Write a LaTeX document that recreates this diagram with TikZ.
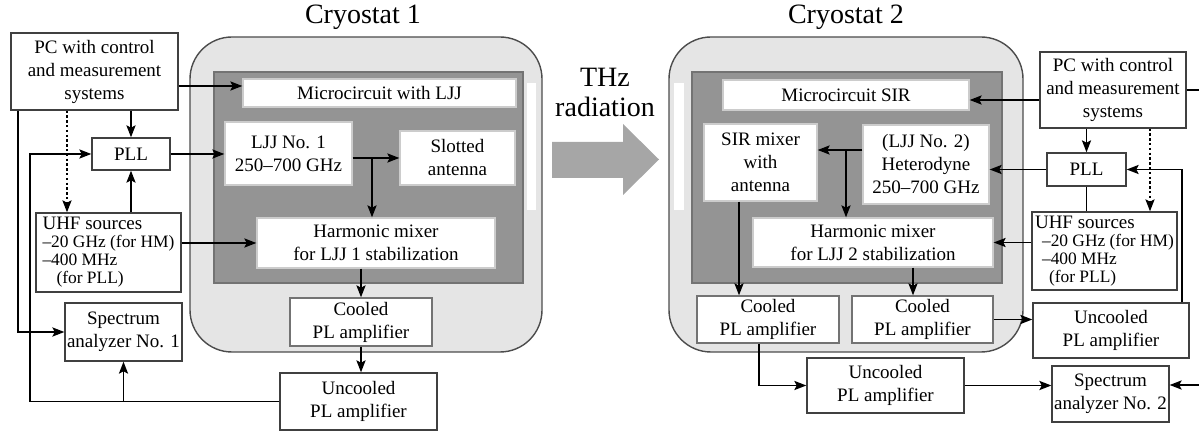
\documentclass[tikz,border=0pt]{standalone}
\usepackage{fontspec}
\setmainfont{Liberation Serif}
\usetikzlibrary{arrows.meta}

\begin{document}
\begin{tikzpicture}[
    x=0.5pt, y=-0.5pt,
    box/.style={draw=black!75, fill=white, line width=0.7pt, align=center, inner sep=1pt,
      font=\fontsize{9.5}{11.5}\selectfont},
    chip box/.style={box, draw=black!20},
    cool box/.style={box, draw=black!55},
    src box/.style={box, align=left, font=\fontsize{8.7}{9}\selectfont},
    cryostat/.style={fill=black!10, draw=black!70, line width=0.7pt, rounded corners=21pt},
    chip/.style={fill=black!42, draw=black!55, line width=0.6pt},
    window/.style={fill=white},
    wave/.style={fill=black!35},
    title/.style={font=\fontsize{14}{15}\selectfont, align=center},
    arr/.style={-{Stealth[length=6pt, width=4.6pt, inset=1.2pt]}, line width=0.7pt},
    dots/.style={arr, dash pattern=on 1.2pt off 1.2pt}
  ]
  \useasboundingbox (0,0) rectangle (1199,432);

  % Cryostats
  \draw[cryostat] (190,37) rectangle (542,352);
  \draw[chip] (214,72) rectangle (523,283);
  \fill[window] (527,83) rectangle (536,210);
  \draw[cryostat] (669,37) rectangle (1023,352);
  \draw[chip] (692,72) rectangle (1002,283);
  \fill[window] (674,83) rectangle (684,210);

  \node[title] (cryoA) at (363,17) {Cryostat 1};
  \node[title] (cryoB) at (846,17) {Cryostat 2};

  % THz radiation
  \fill[wave] (552,142) -- (623,142) -- (623,124) -- (659,159.5) -- (623,195) -- (623,178) -- (552,178) -- cycle;
  \node[title] (thz) at (605,92) {THz\\radiation};

  % Left side
  \node[box, minimum width=83.5pt, minimum height=38.5pt] (pcA) at (94.5,71.5)
    {PC with control\\and measurement\\systems};
  \node[box, minimum width=39pt, minimum height=16pt] (pllA) at (131,154) {PLL};
  \node[src box, minimum width=72.5pt, minimum height=39.5pt] (uhfA) at (108.5,252.5)
    {{\fontsize{9.5}{9}\selectfont UHF sources}\\--20 GHz (for HM)\\--400 MHz\\\hspace*{7pt}(for PLL)};
  \node[box, minimum width=56.5pt, minimum height=29pt] (specA) at (123.5,332)
    {Spectrum\\analyzer No. 1};

  % Cryostat 1
  \node[chip box, minimum width=136.5pt, minimum height=14pt] (microA) at (379.5,93)
    {Microcircuit with LJJ};
  \node[chip box, minimum width=63.5pt, minimum height=31.5pt] (ljjA) at (288.5,153.5)
    {LJJ No. 1\\250--700 GHz};
  \node[chip box, minimum width=57.5pt, minimum height=27pt] (slotA) at (457.5,158)
    {Slotted\\antenna};
  \node[chip box, minimum width=119pt, minimum height=25pt] (hmA) at (376,243)
    {Harmonic mixer\\for LJJ 1 stabilization};
  \node[cool box, minimum width=71pt, minimum height=24pt] (coolA) at (361,322)
    {Cooled\\PL amplifier};
  \node[box, minimum width=78.5pt, minimum height=28.5pt] (uncoolA) at (358.5,401.5)
    {Uncooled\\PL amplifier};

  % Cryostat 2
  \node[chip box, minimum width=123pt, minimum height=15pt] (microB) at (846,95)
    {Microcircuit SIR};
  \node[chip box, minimum width=56.5pt, minimum height=38.5pt] (sirB) at (760.5,162.5)
    {SIR mixer\\with\\antenna};
  \node[chip box, minimum width=63pt, minimum height=39.5pt] (hetB) at (926,164.5)
    {(LJJ No. 2)\\Heterodyne\\250--700 GHz};
  \node[chip box, minimum width=120pt, minimum height=24.5pt] (hmB) at (873,242.5)
    {Harmonic mixer\\for LJJ 2 stabilization};
  \node[cool box, minimum width=71pt, minimum height=23.5pt] (coolB) at (768,319.5)
    {Cooled\\PL amplifier};
  \node[cool box, minimum width=70.5pt, minimum height=23.5pt] (coolC) at (922.5,319.5)
    {Cooled\\PL amplifier};

  % Right side
  \node[box, minimum width=73pt, minimum height=38pt] (pcB) at (1113,90)
    {PC with control\\and measurement\\systems};
  \node[box, minimum width=39.5pt, minimum height=16.5pt] (pllB) at (1086.5,169.5) {PLL};
  \node[src box, minimum width=72.5pt, minimum height=39pt] (uhfB) at (1104.5,251)
    {{\fontsize{9.5}{9}\selectfont UHF sources}\\\hspace*{3.5pt}--20 GHz (for HM)\\\hspace*{3.5pt}--400 MHz\\\hspace*{7pt}(for PLL)};
  \node[box, minimum width=78pt, minimum height=27.5pt] (uncoolC) at (1111,330.5)
    {Uncooled\\PL amplifier};
  \node[box, minimum width=78.5pt, minimum height=27.5pt] (uncoolB) at (885.5,385.5)
    {Uncooled\\PL amplifier};
  \node[box, minimum width=55.5pt, minimum height=28pt] (specB) at (1110.5,394)
    {Spectrum\\analyzer No. 2};

  % Taps and rails
  \coordinate (tapA) at (0,86);
  \coordinate (railA) at (18,0);
  \coordinate (railB) at (30,0);
  \coordinate (dotA) at (67,0);
  \coordinate (brA) at (372,158);
  \coordinate (tapB) at (0,150);
  \coordinate (brB) at (846,150);
  \coordinate (tapC) at (0,100);
  \coordinate (dnB) at (739,0);
  \coordinate (dnC) at (913,0);
  \coordinate (dnD) at (759,0);
  \coordinate (dotB) at (1150,0);
  \coordinate (railC) at (1182,0);
  \coordinate (edgeA) at (1199,90);
  \coordinate (edgeB) at (1199,385);

  % Connectors, left
  \draw[arr] (pcA.east |- tapA) -- (microA.west |- tapA);
  \draw[arr] (pllA.north |- pcA.south) -- (pllA.north);
  \draw[dots] (dotA |- pcA.south) -- (dotA |- uhfA.north);
  \draw[arr] (pllA.south |- uhfA.north) -- (pllA.south);
  \draw[arr] (pllA.east) -- (pllA.east -| ljjA.west);
  \draw[arr] (uhfA.east |- hmA.west) -- (hmA.west);
  \draw[arr] (railA |- pcA.south) -- (railA |- specA.west) -- (specA.west);
  \draw[arr] (uncoolA.west) -- (railB |- uncoolA.west) -- (railB |- pllA.west) -- (pllA.west);
  \draw[arr] (specA.south |- uncoolA.west) -- (specA.south);
  \draw[arr] (ljjA.east |- slotA.west) -- (slotA.west);
  \draw[arr] (brA) -- (brA |- hmA.north);
  \draw[arr] (hmA.south -| coolA.north) -- (coolA.north);
  \draw[arr] (coolA.south) -- (uncoolA.north -| coolA.south);

  % Connectors, right
  \draw[arr] (pcB.west |- tapC) -- (microB.east |- tapC);
  \draw[line width=0.7pt] (pcB.east) -- (edgeA);
  \draw[arr] (pllB.north |- pcB.south) -- (pllB.north);
  \draw[dots] (dotB |- pcB.south) -- (dotB |- uhfB.north);
  \draw[line width=0.7pt] (pllB.south) -- (pllB.south |- uhfB.north);
  \draw[arr] (pllB.west) -- (pllB.west -| hetB.east);
  \draw[arr] (uhfB.west |- hmB.east) -- (hmB.east);
  \draw[arr] (railC |- uncoolC.north) -- (railC |- pllB.east) -- (pllB.east);
  \draw[arr] (hetB.west |- tapB) -- (sirB.east |- tapB);
  \draw[arr] (brB) -- (brB |- hmB.north);
  \draw[arr] (dnB |- sirB.south) -- (dnB |- coolB.north);
  \draw[arr] (dnC |- hmB.south) -- (dnC |- coolC.north);
  \draw[arr] (dnD |- coolB.south) -- (dnD |- uncoolB.west) -- (uncoolB.west);
  \draw[arr] (coolC.east) -- (coolC.east -| uncoolC.west);
  \draw[arr] (uncoolB.east) -- (uncoolB.east -| specB.west);
  \draw[arr] (edgeB) -- (edgeB -| specB.east);

\end{tikzpicture}
\end{document}
